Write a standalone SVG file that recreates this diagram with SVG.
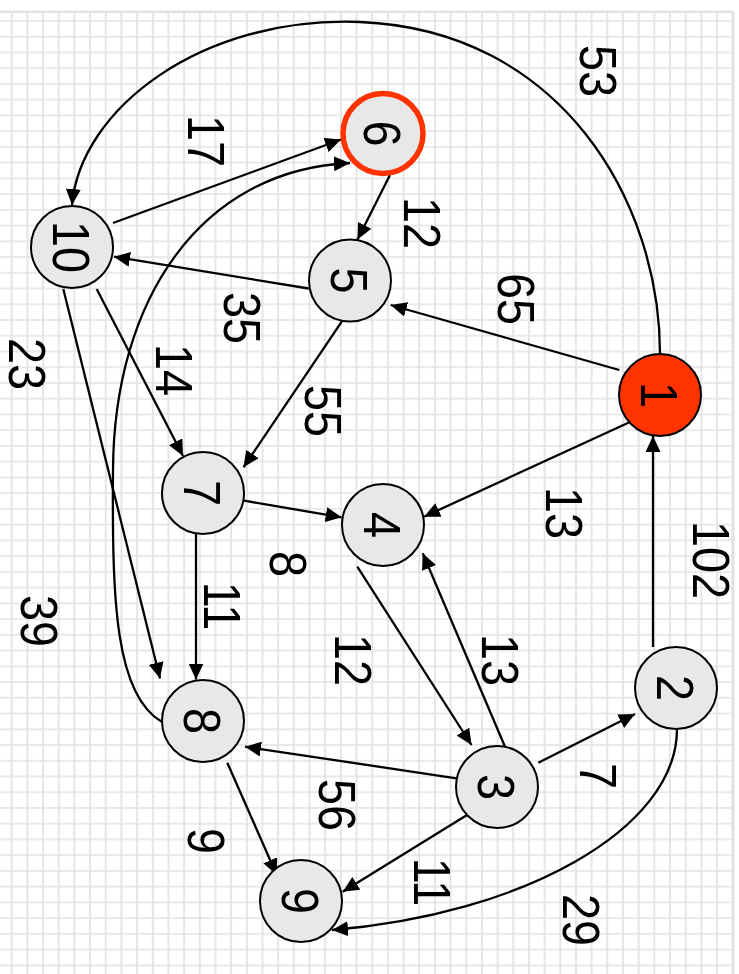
<svg xmlns="http://www.w3.org/2000/svg" width="739" height="974" viewBox="0 0 739 974">
  <style>
    .node { fill: #e8e8e8; stroke: #000; stroke-width: 2; }
    .start { fill: #ff3300; stroke: #000; stroke-width: 2; }
    .target { fill: #e8e8e8; stroke: #ff3300; stroke-width: 5.5; }
    .edge { fill: none; stroke: #000; stroke-width: 2.3; marker-end: url(#arrow); }
    text { font-family: "Liberation Sans", Arial, sans-serif; font-size: 52px; fill: #000; text-anchor: middle; }
  </style>
  <defs>
    <pattern id="grid" x="3.863" y="13.08" width="15.674" height="15.74" patternUnits="userSpaceOnUse">
      <path d="M7.837,0 V15.74 M0,7.87 H15.674" stroke="#e2e2e2" stroke-width="1.7" fill="none"/>
    </pattern>
    <marker id="arrow" markerWidth="16" markerHeight="15" refX="16" refY="7.5" orient="auto" markerUnits="userSpaceOnUse">
      <path d="M0,0 L16,7.5 L0,15 z" fill="#000"/>
    </marker>
  </defs>

  <g id="background">
    <rect x="0" y="0" width="739" height="974" fill="#fff"/>
    <rect x="0" y="11.7" width="733" height="962.3" fill="url(#grid)"/>
    <path d="M0,11.7 H733" stroke="#e2e2e2" stroke-width="2.5" fill="none"/>
    <path d="M733,11.7 V974" stroke="#e2e2e2" stroke-width="3" fill="none"/>
  </g>

  <g id="connectors">
    <path class="edge" d="M660,354 C660,200 560,30 360,22 C200,16 80,110 72,205"/>
    <path class="edge" d="M113,223 L341,139.5"/>
    <path class="edge" d="M162,722 C115,695 112,600 113,470 C114,300 200,170 350,163"/>
    <path class="edge" d="M390,175 L357.5,239.5"/>
    <path class="edge" d="M308.7,288.5 L114,256.7"/>
    <path class="edge" d="M619.3,370 L390.7,305"/>
    <path class="edge" d="M341.7,321.7 L243.5,467.3"/>
    <path class="edge" d="M96.7,289 L183,456"/>
    <path class="edge" d="M63.3,289 L160,678.5"/>
    <path class="edge" d="M196,534 L196,679.5"/>
    <path class="edge" d="M244,500.7 L341.7,517.3"/>
    <path class="edge" d="M636,419.3 L424,516.7"/>
    <path class="edge" d="M653,647 L653,436"/>
    <path class="edge" d="M357.3,566.7 L471.5,745"/>
    <path class="edge" d="M505,746.7 L422.7,553.3"/>
    <path class="edge" d="M538.3,762.7 L635,714"/>
    <path class="edge" d="M456.5,778.3 L245,746.7"/>
    <path class="edge" d="M472.3,811.7 L342.7,891.7"/>
    <path class="edge" d="M227.3,762.7 L276.7,875"/>
    <path class="edge" d="M677,729 C677,830 520,915 332,930"/>
  </g>

  <g id="edge-labels">
    <text transform="translate(599,71) rotate(90) scale(0.9,1)" dy="0.36em">53</text>
    <text transform="translate(207,141) rotate(90) scale(0.9,1)" dy="0.36em">17</text>
    <text transform="translate(422.5,223) rotate(90) scale(0.9,1)" dy="0.36em">12</text>
    <text transform="translate(517,299) rotate(90) scale(0.9,1)" dy="0.36em">65</text>
    <text transform="translate(243,318) rotate(90) scale(0.9,1)" dy="0.36em">35</text>
    <text transform="translate(324,411) rotate(90) scale(0.9,1)" dy="0.36em">55</text>
    <text transform="translate(28,364) rotate(90) scale(0.9,1)" dy="0.36em">23</text>
    <text transform="translate(175,370) rotate(90) scale(0.9,1)" dy="0.36em">14</text>
    <text transform="translate(565,513) rotate(90) scale(0.9,1)" dy="0.36em">13</text>
    <text transform="translate(712,560) rotate(90) scale(0.9,1)" dy="0.36em">102</text>
    <text transform="translate(289,564) rotate(90) scale(0.9,1)" dy="0.36em">8</text>
    <text transform="translate(223,606) rotate(90) scale(0.9,1)" dy="0.36em">11</text>
    <text transform="translate(40,621) rotate(90) scale(0.9,1)" dy="0.36em">39</text>
    <text transform="translate(354,660) rotate(90) scale(0.9,1)" dy="0.36em">12</text>
    <text transform="translate(501,660) rotate(90) scale(0.9,1)" dy="0.36em">13</text>
    <text transform="translate(599,776) rotate(90) scale(0.9,1)" dy="0.36em">7</text>
    <text transform="translate(338,805) rotate(90) scale(0.9,1)" dy="0.36em">56</text>
    <text transform="translate(207,841) rotate(90) scale(0.9,1)" dy="0.36em">9</text>
    <text transform="translate(433,882) rotate(90) scale(0.9,1)" dy="0.36em">11</text>
    <text transform="translate(582,920) rotate(90) scale(0.9,1)" dy="0.36em">29</text>
  </g>

  <g id="node-1">
    <circle class="start" cx="660" cy="395" r="41"/>
    <text transform="translate(660,395) rotate(90) scale(0.9,1)" dy="0.36em">1</text>
  </g>
  <g id="node-2">
    <circle class="node" cx="676" cy="688" r="41"/>
    <text transform="translate(676,688) rotate(90) scale(0.9,1)" dy="0.36em">2</text>
  </g>
  <g id="node-3">
    <circle class="node" cx="497" cy="787" r="41"/>
    <text transform="translate(497,787) rotate(90) scale(0.9,1)" dy="0.36em">3</text>
  </g>
  <g id="node-4">
    <circle class="node" cx="383" cy="525" r="41"/>
    <text transform="translate(383,525) rotate(90) scale(0.9,1)" dy="0.36em">4</text>
  </g>
  <g id="node-5">
    <circle class="node" cx="350" cy="280.5" r="41"/>
    <text transform="translate(350,280.5) rotate(90) scale(0.9,1)" dy="0.36em">5</text>
  </g>
  <g id="node-6">
    <circle class="target" cx="383" cy="133.5" r="40"/>
    <text transform="translate(383,133.5) rotate(90) scale(0.9,1)" dy="0.36em">6</text>
  </g>
  <g id="node-7">
    <circle class="node" cx="203" cy="493" r="41"/>
    <text transform="translate(203,493) rotate(90) scale(0.9,1)" dy="0.36em">7</text>
  </g>
  <g id="node-8">
    <circle class="node" cx="203" cy="721" r="41"/>
    <text transform="translate(203,721) rotate(90) scale(0.9,1)" dy="0.36em">8</text>
  </g>
  <g id="node-9">
    <circle class="node" cx="301" cy="901" r="41"/>
    <text transform="translate(301,901) rotate(90) scale(0.9,1)" dy="0.36em">9</text>
  </g>
  <g id="node-10">
    <circle class="node" cx="72" cy="247" r="41"/>
    <text transform="translate(72,247) rotate(90) scale(0.9,1)" dy="0.36em">10</text>
  </g>
</svg>
